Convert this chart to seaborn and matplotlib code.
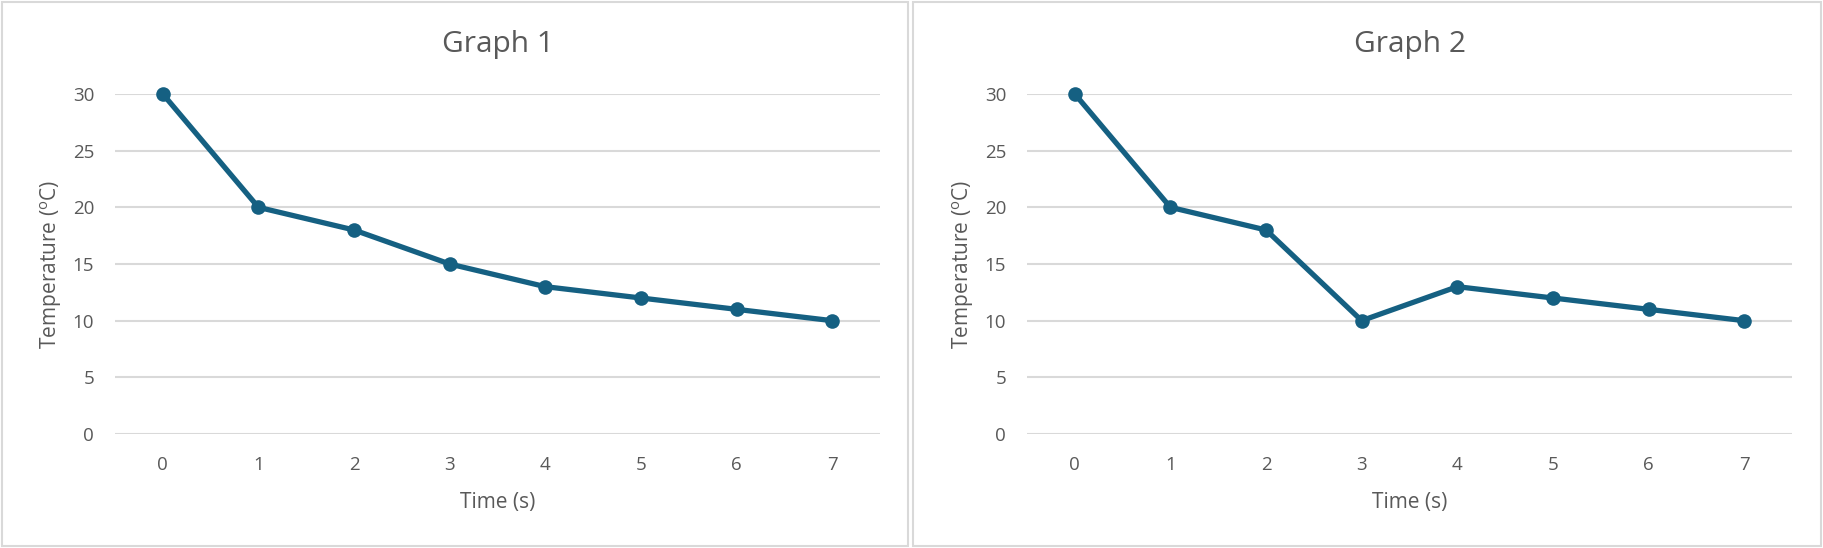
import matplotlib
matplotlib.use("Agg")
import matplotlib.pyplot as plt
import seaborn as sns
import pandas as pd
from matplotlib.patches import Rectangle

# Dados
time_s = [0, 1, 2, 3, 4, 5, 6, 7]
temp_graph1 = [30, 20, 18, 15, 13, 12, 11, 10]
temp_graph2 = [30, 20, 18, 10, 13, 12, 11, 10]
titles = ["Graph 1", "Graph 2"]
y_ticks = [0, 5, 10, 15, 20, 25, 30]

line_color = "#156082"
text_color = "#595959"
grid_color = "#d9d9d9"

sns.set_theme(style="white")
plt.rcParams["font.family"] = ["Open Sans", "DejaVu Sans"]

W, H = 1823, 548
fig = plt.figure(figsize=(W / 100, H / 100), dpi=100)

# contornos dos dois gráficos
for x0, x1 in [(2, 908), (913, 1821)]:
    fig.patches.append(Rectangle((x0 / W, 2 / H), (x1 - x0) / W, (546 - 2) / H,
                                 transform=fig.transFigure, fill=False,
                                 edgecolor=grid_color, linewidth=1.5))

panels = [(115, temp_graph1), (1027, temp_graph2)]
for (left, temps), title in zip(panels, titles):
    ax = fig.add_axes([left / W, (H - 434) / H, 765 / W, 340 / H])
    df = pd.DataFrame({"Time": time_s, "Temp": temps})
    sns.lineplot(data=df, x="Time", y="Temp", ax=ax, color=line_color,
                 linewidth=3.8, marker="o", markersize=10.5, markeredgewidth=0,
                 clip_on=False)
    ax.set_xlim(-0.5, 7.5)
    ax.set_ylim(0, 30)
    ax.set_yticks(y_ticks)
    ax.set_xticks(time_s)
    ax.yaxis.grid(True, color=grid_color, linewidth=1.5)
    ax.set_axisbelow(True)
    for s in ax.spines.values():
        s.set_visible(False)
    ax.tick_params(axis="both", length=0, labelsize=13.5, labelcolor=text_color)
    ax.tick_params(axis="x", pad=16)
    ax.tick_params(axis="y", pad=15)
    ax.set_title(title, fontsize=21.5, color=text_color, pad=30)
    ax.set_xlabel("Time (s)", fontsize=15, color=text_color, labelpad=13)
    ax.set_ylabel(r"Temperature ($^\mathregular{o}$C)", fontsize=15,
                  color=text_color, labelpad=6)

fig.savefig("out.png", dpi=100, facecolor="white")
